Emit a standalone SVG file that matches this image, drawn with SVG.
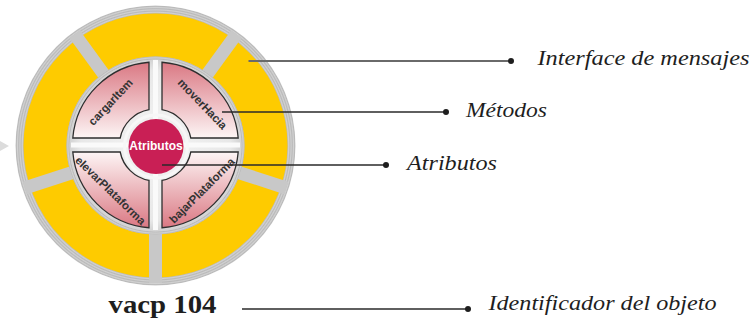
<svg xmlns="http://www.w3.org/2000/svg" width="755" height="321" viewBox="0 0 755 321">
  <defs>
    <radialGradient id="rings" gradientUnits="userSpaceOnUse" cx="155.5" cy="145.5" r="2.4" spreadMethod="repeat">
      <stop offset="0" stop-color="#b9b9b9"/>
      <stop offset="0.5" stop-color="#d2d2d2"/>
      <stop offset="1" stop-color="#b9b9b9"/>
    </radialGradient>
    <radialGradient id="innerGlow" gradientUnits="userSpaceOnUse" cx="155.5" cy="145.5" r="88">
      <stop offset="0" stop-color="#f4f4f4"/>
      <stop offset="0.85" stop-color="#e8e8e8"/>
      <stop offset="1" stop-color="#cfcfcf"/>
    </radialGradient>
    <linearGradient id="qTop" gradientUnits="userSpaceOnUse" x1="0" y1="62" x2="0" y2="138">
      <stop offset="0" stop-color="#da7883"/>
      <stop offset="0.55" stop-color="#edbcc1"/>
      <stop offset="1" stop-color="#fdf5f5"/>
    </linearGradient>
    <linearGradient id="qBot" gradientUnits="userSpaceOnUse" x1="0" y1="152" x2="0" y2="228">
      <stop offset="0" stop-color="#fdf5f5"/>
      <stop offset="0.45" stop-color="#edbcc1"/>
      <stop offset="1" stop-color="#da7883"/>
    </linearGradient>
    <style>
      .spoke { stroke: #c8c8c8; stroke-width: 13; }
      .quad { stroke: #2e2e2e; stroke-width: 1.3; }
      .qtext { font-family: "Liberation Sans", Arial, sans-serif; font-weight: bold; font-size: 11.5px; fill: #333333; text-anchor: middle; }
      .label { font-family: "Liberation Serif", "Times New Roman", serif; font-style: italic; font-size: 22px; fill: #1e1e1e; }
      .ident { font-family: "Liberation Serif", "Times New Roman", serif; font-weight: bold; font-size: 25px; fill: #1e1e1e; }
      .lead { stroke: #2a2a2a; stroke-width: 1.3; fill: none; }
      .dot { fill: #1e1e1e; }
    </style>
  </defs>

  <polygon points="0,141 9,146 0,151" fill="#dcdcdc"/>

  <g id="interface-ring">
    <circle cx="155.5" cy="145.5" r="140" fill="url(#rings)"/>
    <circle cx="155.5" cy="145.5" r="110.5" fill="none" stroke="#fecb00" stroke-width="43"/>
    <line class="spoke" x1="155.5" y1="59" x2="155.5" y2="8" transform="rotate(36 155.5 145.5)"/>
    <line class="spoke" x1="155.5" y1="59" x2="155.5" y2="8" transform="rotate(108 155.5 145.5)"/>
    <line class="spoke" x1="155.5" y1="59" x2="155.5" y2="8" transform="rotate(180 155.5 145.5)"/>
    <line class="spoke" x1="155.5" y1="59" x2="155.5" y2="8" transform="rotate(252 155.5 145.5)"/>
    <line class="spoke" x1="155.5" y1="59" x2="155.5" y2="8" transform="rotate(324 155.5 145.5)"/>
    <circle cx="155.5" cy="145.5" r="89" fill="url(#rings)"/>
    <circle cx="155.5" cy="145.5" r="86" fill="url(#innerGlow)"/>
    <rect x="153" y="60" width="5" height="170" fill="#fafafa"/>
    <rect x="71" y="142.5" width="169" height="5" fill="#fafafa"/>
  </g>

  <g id="method-cargarItem">
    <path class="quad" fill="url(#qTop)" d="M149,62.25 L149,109.6 A36,36 0 0 0 120.2,138 L72.8,138 A83,83 0 0 1 149,62.25 Z"/>
    <text class="qtext" transform="translate(110.5 102) rotate(-47)" x="0" y="4">cargarItem</text>
  </g>

  <g id="method-moverHacia">
    <path class="quad" fill="url(#qTop)" d="M162,62.25 A83,83 0 0 1 238.2,138 L190.8,138 A36,36 0 0 0 162,109.6 Z"/>
    <text class="qtext" transform="translate(202.5 104) rotate(46)" x="0" y="4">moverHacia</text>
  </g>

  <g id="method-elevarPlataforma">
    <path class="quad" fill="url(#qBot)" d="M72.8,152 L120.2,152 A36,36 0 0 0 149,180.4 L149,227.75 A83,83 0 0 1 72.8,152 Z"/>
    <text class="qtext" transform="translate(110.5 190.5) rotate(44)" x="0" y="4">elevarPlataforma</text>
  </g>

  <g id="method-bajarPlataforma">
    <path class="quad" fill="url(#qBot)" d="M162,180.4 A36,36 0 0 0 190.8,152 L238.2,152 A83,83 0 0 1 162,227.75 Z"/>
    <text class="qtext" transform="translate(202 190.5) rotate(-45)" x="0" y="4">bajarPlataforma</text>
  </g>

  <g id="atributos-core">
    <circle cx="156" cy="146.5" r="31.5" fill="none" stroke="#f7f7f7" stroke-width="3"/>
    <circle cx="156" cy="146.5" r="27.5" fill="#c91f55"/>
    <text x="156" y="149.5" text-anchor="middle" font-family="Liberation Sans, Arial, sans-serif" font-weight="bold" font-size="12" fill="#ffffff">Atributos</text>
  </g>

  <g id="connectors">
    <line x1="248.5" y1="61" x2="511" y2="61" stroke="#6a6a6a" stroke-width="1.8"/>
    <circle class="dot" cx="511" cy="61" r="3"/>
    <line class="lead" x1="222" y1="112" x2="446" y2="112"/>
    <circle class="dot" cx="446" cy="112" r="3"/>
    <line class="lead" x1="162" y1="165" x2="386" y2="165"/>
    <circle class="dot" cx="386" cy="165" r="3"/>
    <line class="lead" x1="242" y1="309" x2="468" y2="309"/>
    <circle class="dot" cx="468" cy="309" r="3"/>
  </g>

  <g id="label-interface">
    <text class="label" x="537.5" y="65" textLength="212" lengthAdjust="spacingAndGlyphs">Interface de mensajes</text>
  </g>
  <g id="label-metodos">
    <text class="label" x="466" y="117" textLength="81" lengthAdjust="spacingAndGlyphs">Métodos</text>
  </g>
  <g id="label-atributos">
    <text class="label" x="407" y="170" textLength="90" lengthAdjust="spacingAndGlyphs">Atributos</text>
  </g>
  <g id="label-identificador">
    <text class="label" x="488.5" y="310" textLength="228" lengthAdjust="spacingAndGlyphs">Identificador del objeto</text>
  </g>
  <g id="object-id">
    <text class="ident" x="108.5" y="313" textLength="108" lengthAdjust="spacingAndGlyphs">vacp 104</text>
  </g>
</svg>
